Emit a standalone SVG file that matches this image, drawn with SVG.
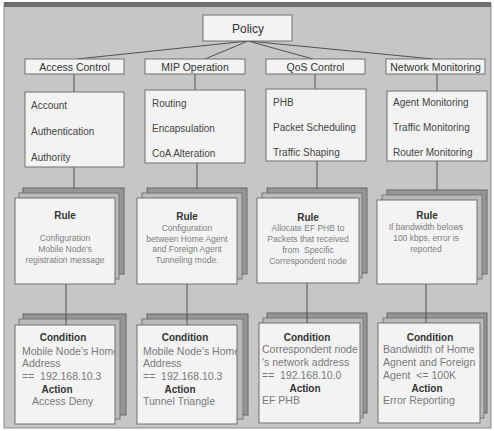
<svg xmlns="http://www.w3.org/2000/svg" width="494" height="431" viewBox="0 0 494 431">
<style>
text{font-family:"Liberation Sans","Noto Sans CJK KR",Arial,sans-serif;white-space:pre}
.box{fill:#f3f3f3;stroke:#707070;stroke-width:1}
.back{fill:#959595;stroke:#666;stroke-width:1}
.mid{fill:#bababa;stroke:#777;stroke-width:1}
.ln{stroke:#505050;stroke-width:1;fill:none}
.h1{font-size:12px;fill:#333;text-anchor:middle}
.h2{font-size:10.5px;fill:#333;text-anchor:middle}
.it{font-size:10px;fill:#444}
.hd{font-size:10px;font-weight:bold;fill:#333;text-anchor:middle}
.rb{font-size:8.5px;fill:#7e7e7e;text-anchor:middle}
.cb{font-size:10.5px;fill:#7a7a7a}
</style>
<defs>
<clipPath id="c1"><rect x="15" y="325" width="100" height="99"/></clipPath>
<clipPath id="c2"><rect x="137" y="325" width="100" height="99"/></clipPath>
<clipPath id="c3"><rect x="259" y="323" width="101" height="100"/></clipPath>
<clipPath id="c4"><rect x="378" y="323" width="102" height="100"/></clipPath>
</defs>
<rect x="0" y="0" width="494" height="431" fill="#ffffff"/>
<rect x="4" y="3" width="487" height="425" fill="#c6c6c6" stroke="#8a8a8a"/>
<rect x="4" y="2" width="487" height="5" fill="#6e6e6e"/>

<g id="connectors">
<line class="ln" x1="248" y1="41" x2="77" y2="59"/>
<line class="ln" x1="248" y1="41" x2="205" y2="59"/>
<line class="ln" x1="248" y1="41" x2="313" y2="59"/>
<line class="ln" x1="248" y1="41" x2="433" y2="59"/>
<line class="ln" x1="74" y1="74" x2="74" y2="92"/>
<line class="ln" x1="195" y1="74" x2="195" y2="90"/>
<line class="ln" x1="315" y1="74" x2="315" y2="89"/>
<line class="ln" x1="437" y1="74" x2="437" y2="91"/>
<line class="ln" x1="74" y1="167" x2="74" y2="188"/>
<line class="ln" x1="197" y1="163" x2="197" y2="188"/>
<line class="ln" x1="317" y1="161" x2="317" y2="188"/>
<line class="ln" x1="437" y1="161" x2="437" y2="190"/>
<line class="ln" x1="66" y1="284" x2="66" y2="325"/>
<line class="ln" x1="187" y1="284" x2="187" y2="325"/>
<line class="ln" x1="307" y1="283" x2="307" y2="323"/>
<line class="ln" x1="426" y1="284" x2="426" y2="323"/>
</g>

<g id="policy">
<rect class="box" x="203" y="15" width="89" height="26"/>
<text class="h1" x="248" y="33">Policy</text>
</g>

<g id="access-control">
<rect class="box" x="25" y="59" width="99" height="15"/>
<text class="h2" x="74.5" y="70.5">Access Control</text>
</g>
<g id="mip-operation">
<rect class="box" x="145" y="59" width="100" height="15"/>
<text class="h2" x="195" y="70.5">MIP Operation</text>
</g>
<g id="qos-control">
<rect class="box" x="266" y="59" width="99" height="15"/>
<text class="h2" x="315.5" y="70.5">QoS Control</text>
</g>
<g id="network-monitoring">
<rect class="box" x="386" y="59" width="99" height="15"/>
<text class="h2" x="435.5" y="70.5">Network Monitoring</text>
</g>

<g id="access-items">
<rect class="box" x="25" y="92" width="99" height="75"/>
<text class="it" x="31" y="108.5">Account</text>
<text class="it" x="31" y="134.5">Authentication</text>
<text class="it" x="31" y="160.5">Authority</text>
</g>
<g id="mip-items">
<rect class="box" x="145" y="90" width="100" height="73"/>
<text class="it" x="152" y="106.5">Routing</text>
<text class="it" x="152" y="131.5">Encapsulation</text>
<text class="it" x="152" y="156.5">CoA Alteration</text>
</g>
<g id="qos-items">
<rect class="box" x="266" y="89" width="100" height="72"/>
<text class="it" x="273" y="105.5">PHB</text>
<text class="it" x="273" y="130.5">Packet Scheduling</text>
<text class="it" x="273" y="155.5">Traffic Shaping</text>
</g>
<g id="nm-items">
<rect class="box" x="387" y="91" width="100" height="70"/>
<text class="it" x="393" y="105.5">Agent Monitoring</text>
<text class="it" x="393" y="130.5">Traffic Monitoring</text>
<text class="it" x="393" y="155.5">Router Monitoring</text>
</g>

<g id="access-rule">
<rect class="back" x="23" y="188" width="101" height="86"/>
<rect class="mid" x="19" y="193" width="100" height="86"/>
<rect class="box" x="15" y="198" width="100" height="86"/>
<text class="hd" x="65" y="218.5">Rule</text>
<text class="rb" x="65" y="241">Configuration</text>
<text class="rb" x="65" y="252">Mobile Node's</text>
<text class="rb" x="65" y="263">registration message</text>
</g>
<g id="mip-rule">
<rect class="back" x="147" y="188" width="100" height="86"/>
<rect class="mid" x="142" y="193" width="100" height="86"/>
<rect class="box" x="137" y="198" width="100" height="86"/>
<text class="hd" x="187" y="219.5">Rule</text>
<text class="rb" x="187" y="231">Configuration</text>
<text class="rb" x="187" y="241.5">between Home Agent</text>
<text class="rb" x="187" y="252">and Foreign Agent</text>
<text class="rb" x="187" y="262.5">Tunneling mode.</text>
</g>
<g id="qos-rule">
<rect class="back" x="267" y="188" width="100" height="85"/>
<rect class="mid" x="262" y="193" width="100" height="85"/>
<rect class="box" x="257" y="198" width="102" height="85"/>
<text class="hd" x="308" y="220.5">Rule</text>
<text class="rb" x="308" y="231">Allocate EF PHB to</text>
<text class="rb" x="308" y="242">Packets that received</text>
<text class="rb" x="308" y="252.5">from  Specific</text>
<text class="rb" x="308" y="264">Correspondent node</text>
</g>
<g id="nm-rule">
<rect class="back" x="387" y="190" width="100" height="84"/>
<rect class="mid" x="382" y="195" width="100" height="84"/>
<rect class="box" x="377" y="200" width="100" height="84"/>
<text class="hd" x="427" y="218.5">Rule</text>
<text class="rb" x="426" y="230">If bandwidth belows</text>
<text class="rb" x="426" y="241">100 kbps, error is</text>
<text class="rb" x="426" y="251.5">reported</text>
</g>

<g id="access-condition">
<rect class="back" x="23" y="314" width="103" height="101"/>
<rect class="mid" x="19" y="319" width="101" height="100"/>
<rect class="box" x="15" y="325" width="100" height="99"/>
<g clip-path="url(#c1)">
<text class="hd" x="63" y="341">Condition</text>
<text class="cb" x="22" y="355">Mobile Node's Home</text>
<text class="cb" x="22" y="367">Address</text>
<text class="cb" x="22" y="380">==  192.168.10.3</text>
<text class="hd" x="57" y="393">Action</text>
<text class="cb" x="32" y="405">Access Deny</text>
</g>
</g>
<g id="mip-condition">
<rect class="back" x="147" y="314" width="101" height="101"/>
<rect class="mid" x="142" y="319" width="101" height="100"/>
<rect class="box" x="137" y="325" width="100" height="99"/>
<g clip-path="url(#c2)">
<text class="hd" x="185" y="341">Condition</text>
<text class="cb" x="143" y="355">Mobile Node's Home</text>
<text class="cb" x="143" y="367">Address</text>
<text class="cb" x="143" y="380">==  192.168.10.3</text>
<text class="hd" x="180" y="393">Action</text>
<text class="cb" x="143" y="405">Tunnel Triangle</text>
</g>
</g>
<g id="qos-condition">
<rect class="back" x="267" y="313" width="100" height="100"/>
<rect class="mid" x="263" y="318" width="100" height="100"/>
<rect class="box" x="259" y="323" width="101" height="100"/>
<g clip-path="url(#c3)">
<text class="hd" x="307" y="341">Condition</text>
<text class="cb" x="262" y="353">Correspondent node</text>
<text class="cb" x="262" y="366">'s network address</text>
<text class="cb" x="262" y="379">==  192.168.10.0</text>
<text class="hd" x="305" y="392">Action</text>
<text class="cb" x="262" y="404">EF PHB</text>
</g>
</g>
<g id="nm-condition">
<rect class="back" x="387" y="313" width="100" height="100"/>
<rect class="mid" x="383" y="318" width="101" height="100"/>
<rect class="box" x="378" y="323" width="102" height="100"/>
<g clip-path="url(#c4)">
<text class="hd" x="430" y="341">Condition</text>
<text class="cb" x="383" y="353">Bandwidth of Home</text>
<text class="cb" x="383" y="366">Agnent and Foreign</text>
<text class="cb" x="383" y="379">Agent  &lt;= 100K</text>
<text class="hd" x="427" y="392">Action</text>
<text class="cb" x="383" y="404">Error Reporting</text>
</g>
</g>

<g id="connectors-over">
<line class="ln" x1="66" y1="314" x2="66" y2="325"/>
<line class="ln" x1="187" y1="314" x2="187" y2="325"/>
<line class="ln" x1="307" y1="313" x2="307" y2="323"/>
<line class="ln" x1="426" y1="313" x2="426" y2="323"/>
</g>
</svg>
